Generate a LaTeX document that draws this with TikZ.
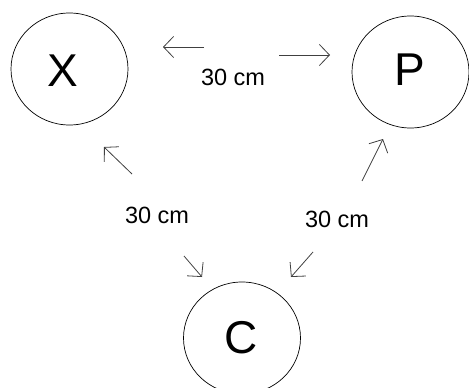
\documentclass[tikz,border=0pt]{standalone}
\usepackage{fontspec}
\setmainfont{Liberation Sans}
\usetikzlibrary{arrows.meta,shapes.geometric}
\begin{document}
\begin{tikzpicture}[x=1pt,y=-1pt,
  ball/.style={draw=black,line width=0.7pt,ellipse,minimum width=117pt,minimum height=112pt,inner sep=0pt},
  letter/.style={inner sep=0pt,font=\fontsize{46}{50}\selectfont},
  dist/.style={font=\fontsize{23.5}{26}\selectfont,inner sep=0pt},
  hint/.style={draw=black!75,line width=0.8pt,-{Straight Barb[length=10pt,width=21pt,line width=0.8pt]}}]
  \useasboundingbox (0,0) rectangle (469,388);
  \clip (0,0) rectangle (469,388);
  % the three bodies
  \node[ball] (X) at (69.5,69) {};
  \node[ball] (P) at (410.5,72) {};
  \node[ball] (C) at (242,338) {};
  \node[letter] (Xt) at (63,70.5) {X};
  \node[letter] (Pt) at (410,70) {P};
  \node[letter] (Ct) at (241,338) {C};
  % distance labels
  \node[dist] (dXP) at (233,77) {30 cm};
  \node[dist] (dXC) at (157,215) {30 cm};
  \node[dist] (dPC) at (337,219) {30 cm};
  % arrow end points
  \coordinate (xpL0) at (204,47);  \coordinate (xpL1) at (163,47);
  \coordinate (xpR0) at (279,55);  \coordinate (xpR1) at (330,55);
  \coordinate (xcU0) at (132,174); \coordinate (xcU1) at (104,147);
  \coordinate (pcU0) at (362,181); \coordinate (pcU1) at (383,139);
  \coordinate (xcD0) at (184,256); \coordinate (xcD1) at (202,277);
  \coordinate (pcD0) at (313,252); \coordinate (pcD1) at (291,277);
  % arrows
  \draw[hint] (xpL0) -- (xpL1);
  \draw[hint] (xpR0) -- (xpR1);
  \draw[hint] (xcU0) -- (xcU1);
  \draw[hint] (pcU0) -- (pcU1);
  \draw[hint] (xcD0) -- (xcD1);
  \draw[hint] (pcD0) -- (pcD1);
\end{tikzpicture}
\end{document}
